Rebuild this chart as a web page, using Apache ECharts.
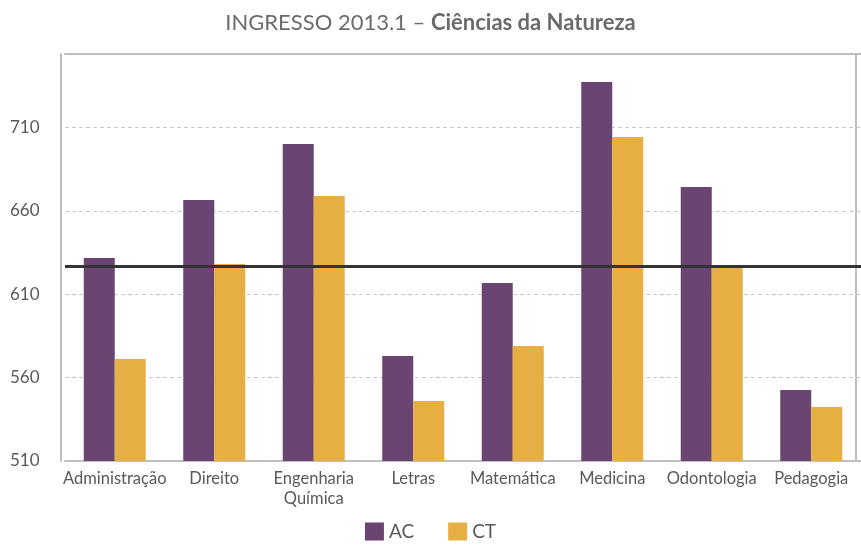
<!DOCTYPE html>
<html>
<head>
<meta charset="utf-8">
<script src="https://cdn.jsdelivr.net/npm/echarts@6/dist/echarts.min.js"></script>
<style>
  html, body { margin: 0; padding: 0; background: #fff; }
  #chart { width: 861px; height: 546px; }
</style>
</head>
<body>
<div id="chart"></div>
<script>
// dados do gráfico
var cursos = ['Administração', 'Direito', 'Engenharia\nQuímica', 'Letras', 'Matemática', 'Medicina', 'Odontologia', 'Pedagogia'];
var notasAC = [631.7, 666.5, 700.0, 572.9, 616.7, 737.2, 674.3, 552.6];
var notasCT = [571.2, 628.1, 668.9, 546.0, 578.9, 704.2, 627.3, 542.4];
var notaCorte = 627;
var yMin = 510, yMax = 754, yStep = 50;

var myChart = echarts.init(document.getElementById('chart'));
var fonte = 'Lato, "Open Sans", sans-serif';
var cinzaBorda = '#bfbfbf';

var option = {
    animation: false,
    textStyle: { fontFamily: fonte },
    title: {
        text: '{n|INGRESSO 2013.1 – }{b|Ciências da Natureza}',
        left: 'center',
        top: 7,
        textStyle: {
            rich: {
                n: { fontSize: 22, color: '#6b6b6b', fontFamily: fonte, fontWeight: 'normal' },
                b: { fontSize: 22, color: '#6b6b6b', fontFamily: fonte, fontWeight: 'bold' }
            }
        }
    },
    legend: {
        data: ['AC', 'CT'],
        bottom: 0,
        left: 'center',
        itemWidth: 19,
        itemHeight: 18,
        itemGap: 34,
        icon: 'rect',
        textStyle: { fontSize: 19, color: '#595959', fontFamily: fonte }
    },
    grid: { left: 65, right: -4, top: 54, bottom: 85 },
    xAxis: [
        {
            type: 'category',
            data: cursos,
            axisLine: { lineStyle: { color: cinzaBorda, width: 2 } },
            axisTick: { show: false },
            axisLabel: { color: '#595959', fontSize: 16.5, margin: 8, lineHeight: 20, interval: 0, fontFamily: fonte }
        },
        {
            type: 'category',
            position: 'top',
            data: cursos,
            axisLine: { lineStyle: { color: cinzaBorda, width: 2 } },
            axisTick: { show: false },
            axisLabel: { show: false }
        }
    ],
    yAxis: [
        {
            type: 'value',
            min: yMin,
            max: yMax,
            interval: yStep,
            offset: 4,
            axisLine: { show: true, lineStyle: { color: cinzaBorda, width: 2 } },
            axisTick: { show: false },
            axisLabel: { color: '#595959', fontSize: 17, align: 'left', margin: 51, showMaxLabel: false, fontFamily: fonte },
            splitLine: { lineStyle: { color: '#c8c8c8', type: [4, 3] } }
        },
        {
            type: 'value',
            position: 'right',
            min: yMin,
            max: yMax,
            interval: yStep,
            offset: -5,
            axisLine: { show: true, lineStyle: { color: cinzaBorda, width: 2 } },
            axisTick: { show: false },
            axisLabel: { show: false },
            splitLine: { show: false }
        }
    ],
    series: [
        {
            name: 'AC',
            type: 'bar',
            barWidth: 31,
            barGap: '0%',
            itemStyle: { color: '#6b4571' },
            data: notasAC,
            markLine: {
                silent: true,
                symbol: 'none',
                label: { show: false },
                lineStyle: { color: '#333333', width: 3, type: 'solid' },
                data: [{ yAxis: notaCorte }]
            }
        },
        {
            name: 'CT',
            type: 'bar',
            barWidth: 31,
            barGap: '0%',
            itemStyle: { color: '#e7ae44' },
            data: notasCT
        }
    ]
};
myChart.setOption(option);
</script>
</body>
</html>
